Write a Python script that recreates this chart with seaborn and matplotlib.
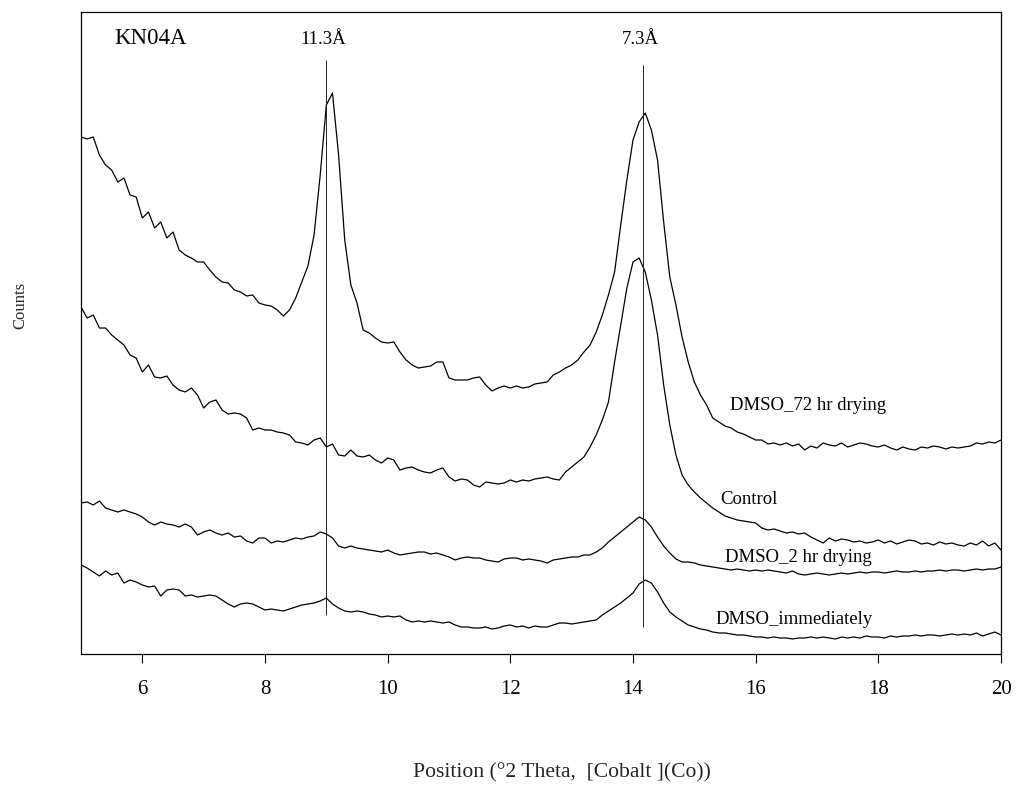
import numpy as np
import pandas as pd
import matplotlib
matplotlib.use("Agg")
import matplotlib.pyplot as plt
import seaborn as sns

# ---------------- data ----------------
two_theta = [round(5.0 + 0.1 * i, 1) for i in range(151)]

dmso_72hr = [517, 515, 517, 499, 489, 484, 472, 476, 459, 457,
             436, 442, 426, 432, 416, 422, 404, 399, 396, 392,
             392, 384, 377, 372, 371, 364, 362, 358, 359, 351,
             349, 348, 344, 338, 344, 356, 372, 388, 419, 479,
             549, 561, 499, 414, 369, 351, 324, 321, 316, 312,
             311, 312, 302, 294, 289, 286, 287, 288, 292, 292,
             276, 274, 274, 274, 276, 277, 269, 263, 266, 268,
             266, 268, 266, 267, 270, 271, 272, 279, 282, 286,
             289, 294, 302, 309, 322, 339, 359, 382, 429, 474,
             514, 532, 541, 524, 494, 432, 377, 349, 317, 292,
             272, 259, 249, 236, 232, 228, 226, 222, 220, 217,
             214, 214, 210, 211, 209, 211, 208, 210, 204, 208,
             206, 211, 209, 208, 211, 207, 209, 211, 210, 208,
             207, 209, 206, 204, 207, 205, 204, 207, 206, 208,
             207, 205, 207, 206, 207, 208, 211, 210, 212, 211,
             214]

control = [347, 336, 339, 326, 326, 319, 314, 309, 299, 296,
           282, 289, 277, 276, 278, 269, 264, 262, 266, 259,
           246, 252, 254, 244, 240, 241, 240, 236, 224, 226,
           224, 224, 222, 221, 219, 212, 211, 209, 214, 216,
           207, 210, 199, 198, 204, 198, 197, 199, 194, 191,
           196, 194, 184, 186, 187, 184, 182, 181, 184, 186,
           177, 173, 175, 174, 169, 167, 172, 171, 170, 171,
           174, 172, 174, 173, 175, 176, 177, 175, 174, 182,
           187, 192, 197, 207, 219, 234, 252, 292, 329, 366,
           392, 396, 382, 354, 319, 269, 229, 199, 179, 169,
           162, 156, 151, 146, 142, 138, 136, 134, 133, 132,
           131, 126, 124, 125, 123, 121, 122, 120, 121, 117,
           114, 111, 116, 113, 115, 114, 112, 113, 111, 112,
           114, 111, 113, 110, 112, 114, 113, 110, 111, 109,
           112, 110, 111, 109, 108, 111, 109, 113, 108, 111,
           104]

dmso_2hr = [151, 152, 149, 153, 146, 144, 142, 144, 142, 140,
            137, 132, 129, 132, 130, 129, 127, 130, 127, 119,
            122, 124, 121, 119, 121, 117, 118, 113, 111, 116,
            116, 111, 113, 112, 114, 116, 115, 117, 118, 122,
            120, 116, 108, 106, 108, 106, 105, 104, 103, 102,
            104, 101, 99, 100, 101, 102, 102, 100, 101, 99,
            97, 94, 96, 97, 96, 96, 94, 93, 92, 95,
            96, 96, 94, 95, 94, 93, 91, 94, 95, 96,
            97, 97, 99, 99, 102, 106, 112, 117, 122, 127,
            132, 137, 134, 127, 117, 108, 101, 95, 92, 92,
            91, 89, 88, 87, 86, 85, 84, 85, 84, 83,
            84, 83, 84, 83, 82, 81, 83, 80, 79, 80,
            81, 80, 79, 80, 81, 80, 81, 82, 81, 82,
            82, 81, 82, 83, 82, 82, 83, 82, 83, 83,
            84, 83, 84, 84, 83, 84, 85, 84, 85, 85,
            87]

dmso_immediately = [89, 86, 82, 78, 83, 79, 81, 71, 74, 72,
                    69, 67, 68, 58, 64, 65, 64, 58, 59, 57,
                    58, 59, 58, 54, 50, 47, 50, 51, 50, 47,
                    44, 45, 44, 43, 45, 47, 49, 50, 51, 53,
                    56, 50, 46, 43, 42, 43, 42, 40, 39, 37,
                    38, 37, 38, 34, 32, 33, 32, 33, 32, 31,
                    32, 29, 27, 27, 26, 26, 27, 25, 26, 28,
                    29, 27, 28, 26, 28, 27, 27, 29, 31, 31,
                    30, 31, 32, 33, 34, 39, 43, 47, 51, 56,
                    61, 70, 74, 71, 62, 51, 42, 37, 33, 29,
                    27, 25, 24, 22, 21, 21, 20, 19, 19, 18,
                    17, 17, 16, 17, 16, 16, 15, 16, 16, 17,
                    16, 17, 16, 15, 17, 16, 17, 16, 18, 17,
                    17, 16, 18, 17, 18, 18, 19, 18, 19, 19,
                    18, 19, 20, 19, 20, 19, 21, 18, 20, 22,
                    19]

series_names = ["DMSO_72 hr drying", "Control", "DMSO_2 hr drying", "DMSO_immediately"]

# reference d-spacing lines
ref_positions = [9.0, 14.17]
ref_labels = ["11.3Å", "7.3Å"]
ref_ymin = [39, 27]
ref_ymax = [594, 589]

# ---------------- build table ----------------
frames = []
for name, vals in zip(series_names, [dmso_72hr, control, dmso_2hr, dmso_immediately]):
    frames.append(pd.DataFrame({"two_theta": two_theta, "counts": vals, "sample": name}))
df = pd.concat(frames, ignore_index=True)

# ---------------- plot ----------------
sns.set_style("white")
plt.rcParams["font.family"] = ["Liberation Serif", "DejaVu Serif"]

fig = plt.figure(figsize=(10.18, 7.88), dpi=100)
ax = fig.add_axes([81 / 1018, 1 - 654 / 788, 920 / 1018, 642 / 788])

sns.lineplot(data=df, x="two_theta", y="counts", hue="sample",
             palette=["black"] * 4, legend=False, linewidth=0.9, ax=ax,
             estimator=None, sort=False)

ax.vlines(ref_positions, ref_ymin, ref_ymax, colors="#222222", linewidth=0.7)
for xp, lab in zip(ref_positions, ref_labels):
    ax.text(xp - 0.05, 614, lab, ha="center", va="center", fontsize=13.5, color="black")

ax.text(5.55, 616, "KN04A", ha="left", va="center", fontsize=16.5, color="black")

label_pos = [(15.58, 248), (15.42, 154), (15.5, 97), (15.34, 35)]
for name, (lx, ly) in zip(series_names, label_pos):
    ax.text(lx, ly, name, ha="left", va="center", fontsize=13.5, color="black")

ax.set_xlim(5, 20)
ax.set_ylim(0, 642)
ax.set_xticks([6, 8, 10, 12, 14, 16, 18, 20])
ax.set_yticks([])
ax.set_xlabel("")
ax.set_ylabel("")
ax.tick_params(axis="x", direction="out", length=6.5, width=0.8, colors="black",
               labelsize=15, pad=12, bottom=True, top=False)
for sp in ax.spines.values():
    sp.set_visible(True)
    sp.set_color("black")
    sp.set_linewidth(0.9)

fig.text(562 / 1018, 1 - 773 / 788, "Position (°2 Theta,  [Cobalt ](Co))",
         ha="center", va="center", fontsize=15.6)
fig.text(20 / 1018, 1 - 305 / 788, "Counts", ha="center", va="center",
         rotation=90, fontsize=12)

fig.savefig("out.png", dpi=100)
